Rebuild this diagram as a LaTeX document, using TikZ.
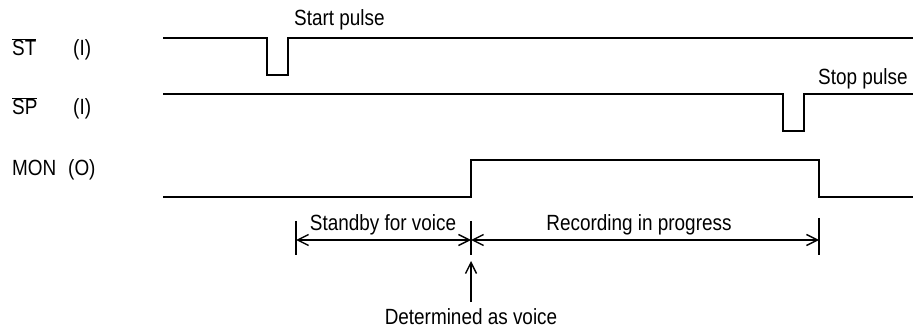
\documentclass[tikz,border=0pt]{standalone}
\usepackage{fontspec}
\setmainfont{Liberation Sans}[FakeStretch=0.86]
\usetikzlibrary{arrows.meta,calc}
\tikzset{
  txt/.style={inner sep=0pt, font=\fontsize{22}{26}\selectfont},
  wave/.style={line width=1.5pt, line join=miter},
  dim/.style={line width=1.4pt},
  tip/.style={-{Straight Barb[length=11pt,width=11pt]}}
}
\begin{document}
\begin{tikzpicture}[x=1pt,y=-1pt]
\useasboundingbox (0,0) rectangle (913,331);
% signal labels
\node[txt, anchor=base west] (st) at (12,56) {$\overline{\mbox{ST}}$};
\node[txt, anchor=base west] (sti) at (73,56) {(I)};
\node[txt, anchor=base west] (sp) at (12,115) {$\overline{\mbox{SP}}$};
\node[txt, anchor=base west] (spi) at (73,115) {(I)};
\node[txt, anchor=base west] (mon) at (12,176) {MON};
\node[txt, anchor=base west] (mono) at (68,176) {(O)};
% waveforms
\draw[wave] (163,38) -- (267,38) -- (267,75) -- (288,75) -- (288,38) -- (913,38);
\draw[wave] (163,94) -- (783,94) -- (783,131) -- (804,131) -- (804,94) -- (913,94);
\draw[wave] (163,197) -- (471,197) -- (471,160) -- (819,160) -- (819,197) -- (913,197);
% annotations
\node[txt, anchor=base west] (start) at (294,26) {Start pulse};
\node[txt, anchor=base west] (stop) at (818,85) {Stop pulse};
% dimension lines
\coordinate (a1) at (296,240);
\coordinate (a2) at (471,240);
\coordinate (a3) at (819,240);
\draw[dim] (296,221) -- (296,255);
\draw[dim] (471,221) -- (471,255);
\draw[dim] (819,218) -- (819,255);
\draw[dim, tip] ($(a1)!0.5!(a2)$) -- (a1);
\draw[dim, tip] ($(a1)!0.5!(a2)$) -- (a2);
\draw[dim, tip] ($(a2)!0.5!(a3)$) -- (a2);
\draw[dim, tip] ($(a2)!0.5!(a3)$) -- (a3);
\node[txt, anchor=base] (standby) at (383,230) {Standby for voice};
\node[txt, anchor=base] (rec) at (639,230) {Recording in progress};
\node[txt, anchor=base] (det) at (471,324) {Determined as voice};
\coordinate (up) at (471,261);
\draw[dim, tip] (471,302) -- (up);
\end{tikzpicture}
\end{document}
